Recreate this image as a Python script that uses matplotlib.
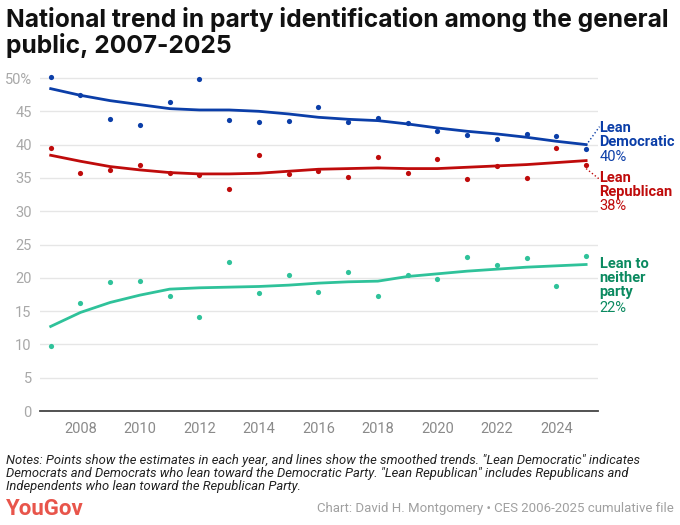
import matplotlib
matplotlib.use('Agg')
import matplotlib.pyplot as plt
import numpy as np

plt.rcParams['font.family'] = ['Roboto', 'DejaVu Sans']

# Daten
jahre = list(range(2007, 2026))

dem_punkte = [50.2, 47.4, 43.8, 42.9, 46.4, 49.9, 43.7, 43.4, 43.5, 45.6,
              43.4, 44.0, 43.3, 42.0, 41.5, 40.8, 41.6, 41.3, 39.3]
dem_trend = [48.4, 47.4, 46.6, 46.0, 45.4, 45.2, 45.2, 45.0, 44.6, 44.1,
             43.8, 43.6, 43.1, 42.5, 42.0, 41.6, 41.1, 40.5, 40.0]

rep_punkte = [39.5, 35.8, 36.2, 37.0, 35.8, 35.4, 33.4, 38.4, 35.6, 36.0,
              35.1, 38.2, 35.7, 37.8, 34.8, 36.8, 35.0, 39.5, 36.9]
rep_trend = [38.4, 37.5, 36.7, 36.2, 35.8, 35.6, 35.6, 35.7, 36.0, 36.3,
             36.4, 36.5, 36.4, 36.4, 36.6, 36.8, 37.0, 37.3, 37.6]

neu_punkte = [9.8, 16.2, 19.4, 19.5, 17.3, 14.1, 22.3, 17.7, 20.4, 17.9,
              20.9, 17.3, 20.4, 19.8, 23.2, 21.9, 22.9, 18.7, 23.3]
neu_trend = [12.7, 14.8, 16.3, 17.4, 18.3, 18.5, 18.6, 18.7, 18.9, 19.2,
             19.4, 19.5, 20.2, 20.6, 21.0, 21.3, 21.6, 21.8, 22.0]

y_ticks = [0, 5, 10, 15, 20, 25, 30, 35, 40, 45, 50]
y_labels = ['0', '5', '10', '15', '20', '25', '30', '35', '40', '45', '50%']
x_ticks = [2008, 2010, 2012, 2014, 2016, 2018, 2020, 2022, 2024]

titel = ['National trend in party identification among the general',
         'public, 2007-2025']
notizen = ['Notes: Points show the estimates in each year, and lines show the smoothed trends. "Lean Democratic" indicates',
           'Democrats and Democrats who lean toward the Democratic Party. "Lean Republican" includes Republicans and',
           'Independents who lean toward the Republican Party.']

# Farben
blau = '#0b3ea8'
rot = '#bf0b0b'
tuerkis = '#2fc29a'
gruen_text = '#0b8a60'

fig = plt.figure(figsize=(6.8, 5.25), dpi=100)
ax = fig.add_axes([0.0588, 0.2171, 0.8202, 0.6597])

ax.plot(jahre, dem_trend, color=blau, linewidth=2, zorder=3)
ax.scatter(jahre, dem_punkte, color=blau, s=14, zorder=4, linewidths=0)
ax.plot(jahre, rep_trend, color=rot, linewidth=2, zorder=3)
ax.scatter(jahre, rep_punkte, color=rot, s=14, zorder=4, linewidths=0)
ax.plot(jahre, neu_trend, color=tuerkis, linewidth=2, zorder=3)
ax.scatter(jahre, neu_punkte, color=tuerkis, s=14, zorder=4, linewidths=0)

ax.set_xlim(2006.64, 2025.39)
ax.set_ylim(0, 52)
ax.set_yticks(y_ticks)
ax.set_yticklabels(y_labels)
ax.set_xticks(x_ticks)
ax.tick_params(axis='both', length=0, labelsize=10.5, labelcolor='#a8a8a8')
ax.tick_params(axis='x', pad=8, labelcolor='#8a8a8a')
ax.tick_params(axis='y', pad=6)
ax.grid(axis='y', color='#e6e6e6', linewidth=1)
ax.set_axisbelow(True)
for side in ['top', 'right', 'left']:
    ax.spines[side].set_visible(False)
ax.spines['bottom'].set_color('#444444')
ax.spines['bottom'].set_linewidth(1.3)

# Beschriftungen rechts
lx = 2025.45
ax.plot([jahre[-1], lx], [dem_punkte[-1] + 0.6, 42.7], color=blau, linestyle=':',
        linewidth=1, clip_on=False)
ax.text(lx, 41.4, 'Lean\nDemocratic', color=blau, fontsize=10.5, fontweight='bold',
        va='center', ha='left', linespacing=1.0)
ax.text(lx, 38.1, '40%', color=blau, fontsize=10.5, va='center', ha='left')

ax.plot([jahre[-1], lx], [rep_punkte[-1] - 0.5, 34.8], color=rot, linestyle=':',
        linewidth=1, clip_on=False)
ax.text(lx, 34.0, 'Lean\nRepublican', color=rot, fontsize=10.5, fontweight='bold',
        va='center', ha='left', linespacing=1.0)
ax.text(lx, 30.8, '38%', color=rot, fontsize=10.5, va='center', ha='left')

ax.text(lx, 19.9, 'Lean to\nneither\nparty', color=gruen_text, fontsize=10.5,
        fontweight='bold', va='center', ha='left', linespacing=1.0)
ax.text(lx, 15.5, '22%', color=gruen_text, fontsize=10.5, va='center', ha='left')

# Titel
for zeile, yb in zip(titel, [26.7, 53.3]):
    fig.text(0.009, 1 - yb / 525, zeile, fontsize=17.7, fontweight='bold',
             family=['Inter', 'Roboto', 'DejaVu Sans'], color='#111111',
             va='baseline', ha='left')

# Anmerkungen
for zeile, yb in zip(notizen, [464, 477, 490]):
    fig.text(0.009, 1 - yb / 525, zeile, fontsize=9.4, style='italic',
             color='#222222', va='baseline', ha='left')

fig.text(0.009, 1 - 515 / 525, 'YouGov', fontsize=16, fontweight='bold',
         color='#e8554b', va='baseline', ha='left')
fig.text(0.991, 1 - 512 / 525, 'Chart: David H. Montgomery \u2022 CES 2006-2025 cumulative file',
         fontsize=9.5, color='#a0a0a0', va='baseline', ha='right')

fig.savefig('out.png', dpi=100, facecolor='white')
plt.close()
